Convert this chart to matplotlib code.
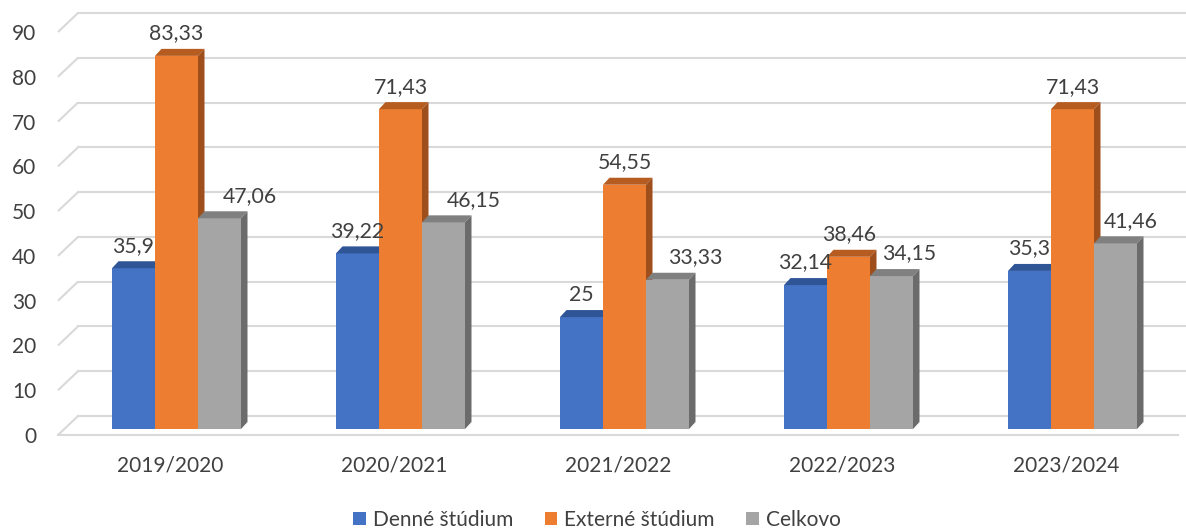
import matplotlib
matplotlib.use('Agg')
import matplotlib.pyplot as plt
from matplotlib.patches import Polygon, Patch
import numpy as np

categories = ['2019/2020', '2020/2021', '2021/2022', '2022/2023', '2023/2024']
denne = [35.9, 39.22, 25, 32.14, 35.3]
externe = [83.33, 71.43, 54.55, 38.46, 71.43]
celkovo = [47.06, 46.15, 33.33, 34.15, 41.46]
series_names = ['Denné štúdium', 'Externé štúdium', 'Celkovo']
yticks = list(range(0, 100, 10))

# style: horizontal nudges (pixels) of the data labels, per series / category
label_nudge_px = [
    [0, 0, 0, 0, 0],
    [0, 0, 0, 1, 0],
    [30, 30, 28, 18, 15],
]

front_colors = ['#4472C4', '#ED7D31', '#A5A5A5']
top_colors = ['#2F5597', '#B65C20', '#808080']
side_colors = ['#2A4C86', '#9E4F1B', '#6B6B6B']
text_color = '#404040'
grid_color = '#D9D9D9'

plt.rcParams['font.family'] = ['Lato', 'DejaVu Sans']

W, H = 1186, 532
fig = plt.figure(figsize=(W / 100, H / 100), dpi=100)

L, R = 58, 1178
Y0, Y90 = 435, 32
ax = fig.add_axes([L / W, (H - Y0) / H, (R - L) / W, (Y0 - Y90) / H])
ax.set_xlim(-0.5, 4.5)
ax.set_ylim(0, 90)
px_x = (R - L) / 5.0
px_y = (Y0 - Y90) / 90.0


def dx(p):
    return p / px_x


def dy(p):
    return p / px_y


# back wall gridlines with slanted left side wall
wall_x, wall_y = 20, 19
for v in yticks:
    ax.plot([-0.5, -0.5 + dx(wall_x)], [v, v + dy(wall_y)], color=grid_color,
            lw=1.5, clip_on=False, zorder=0, solid_capstyle='butt')
    ax.plot([-0.5 + dx(wall_x), 4.5 + dx(wall_x) + 1], [v + dy(wall_y)] * 2,
            color=grid_color, lw=1.5, clip_on=False, zorder=0)
# floor front edge
ax.plot([-0.5, 4.5], [0, 0], color=grid_color, lw=1.5, clip_on=False, zorder=0)

# bars
bw = 43 / px_x
off_x, off_y = 6.5, 6
dep_x, dep_y = 6.5, 7
series = [denne, externe, celkovo]
xs = np.arange(len(categories))
z = 2
for gi in range(len(categories)):
    for si, vals in enumerate(series):
        v = vals[gi]
        xc = xs[gi] + (si - 1) * bw + dx(off_x)
        b0 = dy(off_y)
        ax.bar(xc, v, width=bw, bottom=b0, color=front_colors[si],
               zorder=z, clip_on=False, linewidth=0)
        x0, x1 = xc - bw / 2, xc + bw / 2
        top = v + b0
        ax.add_patch(Polygon([(x0, top), (x1, top), (x1 + dx(dep_x), top + dy(dep_y)),
                              (x0 + dx(dep_x), top + dy(dep_y))], closed=True,
                             facecolor=top_colors[si], edgecolor='none',
                             zorder=z, clip_on=False))
        ax.add_patch(Polygon([(x1, b0), (x1, top), (x1 + dx(dep_x), top + dy(dep_y)),
                              (x1 + dx(dep_x), b0 + dy(dep_y))], closed=True,
                             facecolor=side_colors[si], edgecolor='none',
                             zorder=z, clip_on=False))
        z += 0.01

# value labels
for si, vals in enumerate(series):
    for gi, v in enumerate(vals):
        xc = xs[gi] + (si - 1) * bw + dx(off_x + label_nudge_px[si][gi])
        ax.text(xc, v + dy(off_y + dep_y + 9.5), ('%g' % v).replace('.', ','),
                ha='center', va='baseline', fontsize=15.3, color=text_color,
                zorder=10)

ax.set_yticks(yticks)
ax.set_yticklabels([str(t) for t in yticks])
ax.set_xticks(xs)
ax.set_xticklabels(categories)
ax.tick_params(axis='y', length=0, pad=15.5, labelsize=15, labelcolor=text_color)
ax.tick_params(axis='x', length=0, pad=15, labelsize=15, labelcolor=text_color)
for s in ax.spines.values():
    s.set_visible(False)
ax.patch.set_visible(False)

handles = [Patch(facecolor=c, edgecolor='none') for c in front_colors]
fig.legend(handles, series_names, loc='center', bbox_to_anchor=(597 / W, (H - 520) / H),
           ncol=3, frameon=False, fontsize=15, handlelength=0.6, handleheight=0.6,
           handletextpad=0.35, columnspacing=1.5, labelcolor=text_color)

fig.savefig('out.png', dpi=100)
